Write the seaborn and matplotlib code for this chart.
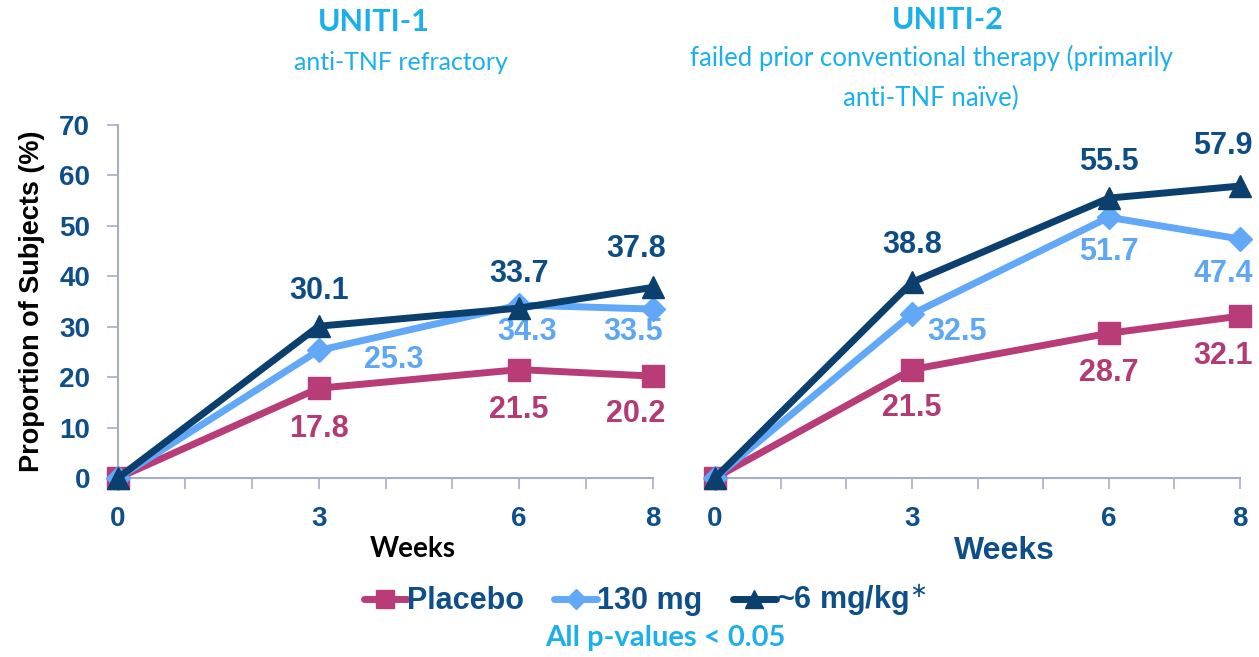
import numpy as np
import pandas as pd
import seaborn as sns
import matplotlib.pyplot as plt
from matplotlib.lines import Line2D

# data
weeks = [0, 3, 6, 8]
series_names = ['Placebo', '130 mg', '~6 mg/kg']
uniti1_placebo = [0, 17.8, 21.5, 20.2]
uniti1_130mg = [0, 25.3, 34.3, 33.5]
uniti1_6mgkg = [0, 30.1, 33.7, 37.8]
uniti2_placebo = [0, 21.5, 28.7, 32.1]
uniti2_130mg = [0, 32.5, 51.7, 47.4]
uniti2_6mgkg = [0, 38.8, 55.5, 57.9]

rows = []
for study, vals in [('UNITI-1', [uniti1_placebo, uniti1_130mg, uniti1_6mgkg]),
                    ('UNITI-2', [uniti2_placebo, uniti2_130mg, uniti2_6mgkg])]:
    for name, v in zip(series_names, vals):
        for w, y in zip(weeks, v):
            rows.append({'study': study, 'group': name, 'week': w, 'value': y})
df = pd.DataFrame(rows)

sns.set_theme(style='white')
plt.rcParams['font.family'] = ['Liberation Sans', 'DejaVu Sans']

line_col = {'Placebo': '#b83c78', '130 mg': '#62a8f8', '~6 mg/kg': '#0b3f6e'}
text_col = {'Placebo': '#b33a75', '130 mg': '#5ea6f6', '~6 mg/kg': '#0d4d85'}
mark = {'Placebo': 's', '130 mg': 'D', '~6 mg/kg': '^'}
msize = {'Placebo': 16, '130 mg': 12, '~6 mg/kg': 16}
tick_col = '#0e4f8a'
axis_col = '#a6aec6'
title_col = '#1bb0ec'

# label offsets in pixels (weeks 3, 6, 8)
offsets = {
    'UNITI-1': {'Placebo': [(0, -41), (0, -40), (-17, -38)],
                '130 mg': [(75, -10), (8, -27), (-20, -23)],
                '~6 mg/kg': [(0, 35), (0, 34), (-17, 38)]},
    'UNITI-2': {'Placebo': [(0, -38), (0, -40), (-17, -40)],
                '130 mg': [(45, -18), (0, -35), (-17, -35)],
                '~6 mg/kg': [(0, 37), (0, 36), (-17, 40)]},
}

fig = plt.figure(figsize=(12.59, 6.57), dpi=100)
ax1 = fig.add_axes([118 / 1259, 1 - 478 / 657, 535 / 1259, 353 / 657])
ax2 = fig.add_axes([715 / 1259, 1 - 478 / 657, 525 / 1259, 353 / 657])

for ax, study in [(ax1, 'UNITI-1'), (ax2, 'UNITI-2')]:
    for name in series_names:
        sub = df[(df.study == study) & (df.group == name)]
        sns.lineplot(data=sub, x='week', y='value', ax=ax, color=line_col[name],
                     linewidth=5, marker=mark[name], markersize=msize[name],
                     markeredgecolor=line_col[name], markeredgewidth=1,
                     clip_on=False, legend=False, zorder=3)
        for i, (w, y) in enumerate(zip(sub.week.values[1:], sub.value.values[1:])):
            dx, dy = offsets[study][name][i]
            ax.annotate(f'{y:.1f}', (w, y), xytext=(dx, dy), textcoords='offset pixels',
                        ha='center', va='center', fontsize=22, fontweight='bold',
                        color=text_col[name])
    ax.set_xlim(0, 8)
    ax.set_ylim(0, 70)
    ax.set_xticks(range(9))
    ax.set_xticklabels([str(t) if t in weeks else '' for t in range(9)],
                       fontsize=20, fontweight='bold', color=tick_col)
    ax.tick_params(axis='x', which='major', direction='out', length=8, width=1.2,
                   color=axis_col, pad=12, bottom=True)
    for s in ['top', 'right']:
        ax.spines[s].set_visible(False)
    ax.spines['bottom'].set_color(axis_col)
    ax.spines['bottom'].set_linewidth(1.5)
    ax.set_ylabel('')

ax1.set_yticks(range(0, 71, 10))
ax1.set_yticklabels([str(t) for t in range(0, 71, 10)], fontsize=20,
                    fontweight='bold', color=tick_col)
ax1.tick_params(axis='y', direction='out', length=8, width=1.2, color=axis_col,
                pad=12, left=True)
ax1.spines['left'].set_color(axis_col)
ax1.spines['left'].set_linewidth(1.5)
ax1.set_ylabel('Proportion of Subjects (%)', fontsize=19.5, fontweight='bold',
               color='black', labelpad=10)
ax1.set_xlabel('Weeks', fontsize=20, fontweight='bold', color='black', family='Lato')
ax1.xaxis.set_label_coords(0.551, -0.165)

ax2.spines['left'].set_visible(False)
ax2.set_yticks([])
ax2.set_xlabel('Weeks', fontsize=23, fontweight='bold', color=tick_col)
ax2.xaxis.set_label_coords(0.552, -0.165)

# titles
fig.text(374 / 1259, 1 - 22 / 657, 'UNITI-1', ha='center', va='center',
         fontsize=22, fontweight='bold', color=title_col, family='Lato')
fig.text(401 / 1259, 1 - 62 / 657, 'anti-TNF refractory', ha='center', va='center',
         fontsize=18, color=title_col, family='Lato')
fig.text(948 / 1259, 1 - 20 / 657, 'UNITI-2', ha='center', va='center',
         fontsize=22, fontweight='bold', color=title_col, family='Lato')
fig.text(931 / 1259, 1 - 78 / 657, 'failed prior conventional therapy (primarily\nanti-TNF naïve)',
         ha='center', va='center', fontsize=18.5, color=title_col, family='Lato',
         linespacing=1.75)

# legend
handles = [Line2D([], [], color=line_col[n], lw=5, marker=mark[n],
                  markersize=msize[n] * 0.85, markeredgecolor=line_col[n])
           for n in series_names]
labels = ['Placebo', '130 mg', '~6 mg/kg$^{\\ast}$']
leg = fig.legend(handles, labels, loc='center', bbox_to_anchor=(645 / 1259, 1 - 600 / 657),
                 ncol=3, frameon=False, handlelength=1.4, handletextpad=0.0,
                 columnspacing=1.0, prop={'size': 22, 'weight': 'bold'})
for t in leg.get_texts():
    t.set_color(tick_col)

fig.text(665 / 1259, 1 - 638 / 657, 'All p-values < 0.05', ha='center', va='center',
         fontsize=21, fontweight='bold', color=title_col, family='Lato')

fig.savefig('out.png', dpi=100)
